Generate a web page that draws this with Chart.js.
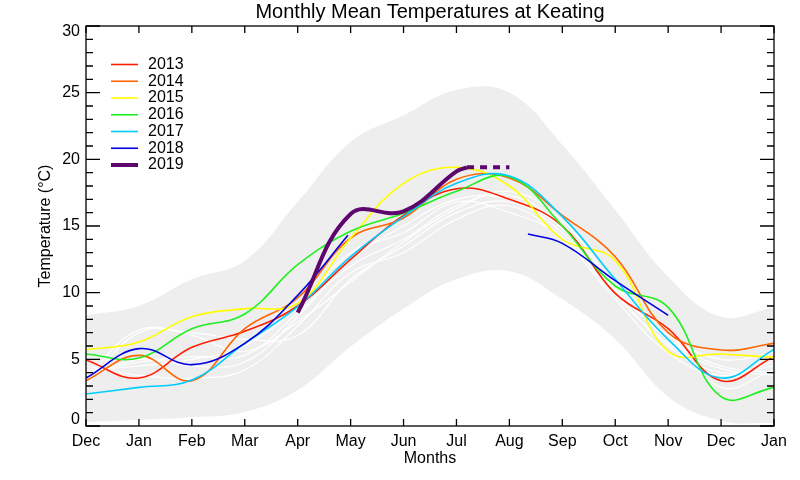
<!DOCTYPE html>
<html>
<head>
<meta charset="utf-8">
<script src="https://cdn.jsdelivr.net/npm/chart.js@4"></script>
<style>
  html, body { margin: 0; padding: 0; background: #fff; }
  #wrap { width: 800px; height: 480px; }
</style>
</head>
<body>
<div id="wrap"><canvas id="chart" width="800" height="480"></canvas></div>
<script>
// month axis: 0 = Dec (previous year) ... 13 = Jan (next year)
const monthLabels = ['Dec', 'Jan', 'Feb', 'Mar', 'Apr', 'May', 'Jun', 'Jul', 'Aug', 'Sep', 'Oct', 'Nov', 'Dec', 'Jan'];
const monthPos = [0, 1, 2, 3, 4, 5, 6, 7, 8, 9, 10, 11, 12, 13];
const tempTicks = [0, 5, 10, 15, 20, 25, 30];

// grey envelope (record range)
const bandUpper = [8.3, 9.0, 11.0, 12.4, 16.8, 21.3, 23.3, 25.2, 25.0, 21.1, 16.2, 11.2, 8.2, 8.9];
const bandLower = [0.3, 0.45, 0.65, 1.05, 2.7, 5.95, 8.8, 11.0, 11.6, 9.5, 6.5, 2.2, 0.4, 0.2];

// older years, drawn in white
const white1 = [3.0, 7.0, 7.0, 6.5, 6.8, 11.0, 13.5, 16.0, 16.8, 14.5, 10.0, 6.0, 4.0, 4.5];
const white2 = [4.0, 4.8, 5.2, 5.3, 8.5, 12.0, 14.0, 16.5, 17.3, 15.0, 10.5, 6.5, 4.5, 4.0];
const white3 = [4.5, 3.8, 3.6, 4.2, 7.5, 11.5, 13.0, 15.5, 16.5, 14.0, 9.5, 5.5, 3.8, 4.8];
const white4 = [3.5, 5.0, 4.5, 4.8, 8.2, 12.5, 15.0, 17.0, 17.0, 14.8, 10.2, 6.8, 5.0, 5.5];
const white5 = [4.2, 4.5, 5.0, 6.0, 9.0, 13.0, 14.5, 16.8, 16.0, 14.2, 9.8, 6.2, 4.3, 3.8];
const white6 = [3.6, 7.2, 6.8, 5.6, 7.8, 10.8, 13.8, 16.3, 17.6, 15.4, 10.6, 7.0, 2.9, 4.2];

// highlighted years
const t2013 = [4.95, 3.6, 5.9, 7.1, 9.0, 12.5, 15.8, 17.8, 17.0, 15.0, 9.95, 7.3, 3.4, 5.2];
const t2014 = [3.4, 5.3, 3.4, 7.3, 9.6, 14.1, 15.6, 18.5, 18.6, 15.8, 12.7, 7.0, 5.7, 6.2];
const t2015 = [5.7, 6.3, 8.2, 8.8, 9.2, 14.1, 18.2, 19.4, 18.0, 14.0, 12.4, 5.6, 5.4, 5.15];
const t2016 = [5.4, 5.1, 7.3, 8.4, 12.1, 14.6, 15.95, 17.6, 18.7, 15.0, 10.5, 8.9, 2.2, 2.9];
const t2017 = [2.4, 2.9, 3.45, 6.2, 8.95, 12.7, 15.7, 18.2, 18.75, 15.7, 11.0, 6.5, 3.6, 5.75];
const x2018 = [0, 1, 2, 3, 4, 4.95, 6.5, 8.35, 9, 10, 11];
const t2018 = [3.6, 5.8, 4.6, 6.2, 9.8, 14.3, null, 14.4, 13.7, 10.9, 8.3];
const x2019 = [4, 5, 6, 7, 7.2];
const t2019 = [8.5, 15.9, 16.1, 19.1, 19.4];
const x2019dash = [7.2, 8];
const t2019dash = [19.4, 19.4];

const yearNames = ['2013', '2014', '2015', '2016', '2017', '2018', '2019'];
const yearColors = ['rgb(255,30,0)', 'rgb(255,100,0)', 'rgb(255,255,0)', 'rgb(30,240,30)', 'rgb(0,205,255)', 'rgb(0,0,225)', 'rgb(95,5,110)'];

function pts(xs, ys) {
  return xs.map((x, i) => ({ x: x, y: ys[i] }));
}

function line(data, color, width, order, extra) {
  return Object.assign({
    data: data,
    borderColor: color,
    borderWidth: width,
    pointRadius: 0,
    fill: false,
    tension: 0.4,
    order: order
  }, extra || {});
}

const whites = [white1, white2, white3, white4, white5, white6];
const yearData = [
  pts(monthPos, t2013), pts(monthPos, t2014), pts(monthPos, t2015),
  pts(monthPos, t2016), pts(monthPos, t2017), pts(x2018, t2018), pts(x2019, t2019)
];

const datasets = [];
datasets.push(line(pts(monthPos, bandUpper), 'rgba(0,0,0,0)', 0, 100, { fill: '+1', backgroundColor: 'rgb(238,238,238)' }));
datasets.push(line(pts(monthPos, bandLower), 'rgba(0,0,0,0)', 0, 99));
whites.forEach(w => datasets.push(line(pts(monthPos, w), '#ffffff', 1.2, 50)));
yearData.forEach((d, i) => {
  const thick = yearNames[i] === '2019';
  datasets.push(line(d, yearColors[i], thick ? 4 : 1.6, thick ? 1 : 10 - i));
});
datasets.push(line(pts(x2019dash, t2019dash), yearColors[6], 4, 1, { borderDash: [7, 6], tension: 0 }));

const FONT = "'Liberation Sans', Arial, Helvetica, sans-serif";

const framePlugin = {
  id: 'frame',
  afterDatasetsDraw(chart) {
    const { ctx, chartArea: a, scales: { x, y } } = chart;
    ctx.save();
    ctx.strokeStyle = '#000';
    ctx.lineWidth = 1.3;
    ctx.strokeRect(a.left, a.top, a.right - a.left, a.bottom - a.top);
    ctx.beginPath();
    monthPos.forEach(m => {
      const px = x.getPixelForValue(m);
      ctx.moveTo(px, a.bottom); ctx.lineTo(px, a.bottom - 7);
      ctx.moveTo(px, a.top); ctx.lineTo(px, a.top + 7);
    });
    for (let v = 0; v <= 30; v++) {
      const py = y.getPixelForValue(v);
      const len = v % 5 === 0 ? 14 : 7;
      ctx.moveTo(a.left, py); ctx.lineTo(a.left + len, py);
      ctx.moveTo(a.right, py); ctx.lineTo(a.right - len, py);
    }
    ctx.stroke();
    ctx.restore();
  },
  afterDraw(chart) {
    const { ctx, chartArea: a, scales: { y } } = chart;
    ctx.save();
    ctx.fillStyle = '#000';
    ctx.font = '20px ' + FONT;
    ctx.textAlign = 'center';
    ctx.textBaseline = 'middle';
    ctx.fillText('Monthly Mean Temperatures at Keating', (a.left + a.right) / 2, 12);
    // y tick labels, kept inside the axis span at both ends
    ctx.font = '16px ' + FONT;
    ctx.textAlign = 'right';
    tempTicks.forEach(v => {
      let py = y.getPixelForValue(v);
      py = Math.min(Math.max(py, a.top + 6), a.bottom - 6);
      ctx.fillText(String(v), a.left - 6, py);
    });
    // legend
    ctx.textAlign = 'left';
    yearNames.forEach((name, i) => {
      const ly = 64.5 + i * 16.75;
      ctx.beginPath();
      ctx.strokeStyle = yearColors[i];
      ctx.lineWidth = name === '2019' ? 4 : 1.6;
      ctx.moveTo(111, ly); ctx.lineTo(138, ly);
      ctx.stroke();
      ctx.fillText(name, 148, ly);
    });
    ctx.restore();
  }
};

Chart.defaults.color = '#000';
Chart.defaults.font.family = FONT;
Chart.defaults.font.size = 16;

new Chart(document.getElementById('chart'), {
  type: 'line',
  data: { datasets: datasets },
  options: {
    responsive: false,
    animation: false,
    devicePixelRatio: 1,
    layout: { padding: { top: 26, right: 26, left: 0, bottom: 0 } },
    plugins: { legend: { display: false }, tooltip: { enabled: false }, title: { display: false } },
    scales: {
      x: {
        type: 'linear',
        min: 0,
        max: 13,
        grid: { display: false, drawTicks: false },
        border: { display: false },
        ticks: {
          stepSize: 1,
          padding: 6,
          maxRotation: 0,
          autoSkip: false,
          callback: v => monthLabels[v]
        },
        title: { display: true, text: 'Months', padding: { top: 0, bottom: 12 } },
        afterFit: s => { s.height = 54; }
      },
      y: {
        min: 0,
        max: 30,
        grid: { display: false, drawTicks: false },
        border: { display: false },
        ticks: { stepSize: 5, display: false },
        title: { display: true, text: 'Temperature (°C)', padding: { top: 36, bottom: 0 } },
        afterFit: s => { s.width = 86; }
      }
    }
  },
  plugins: [framePlugin]
});
</script>
</body>
</html>
